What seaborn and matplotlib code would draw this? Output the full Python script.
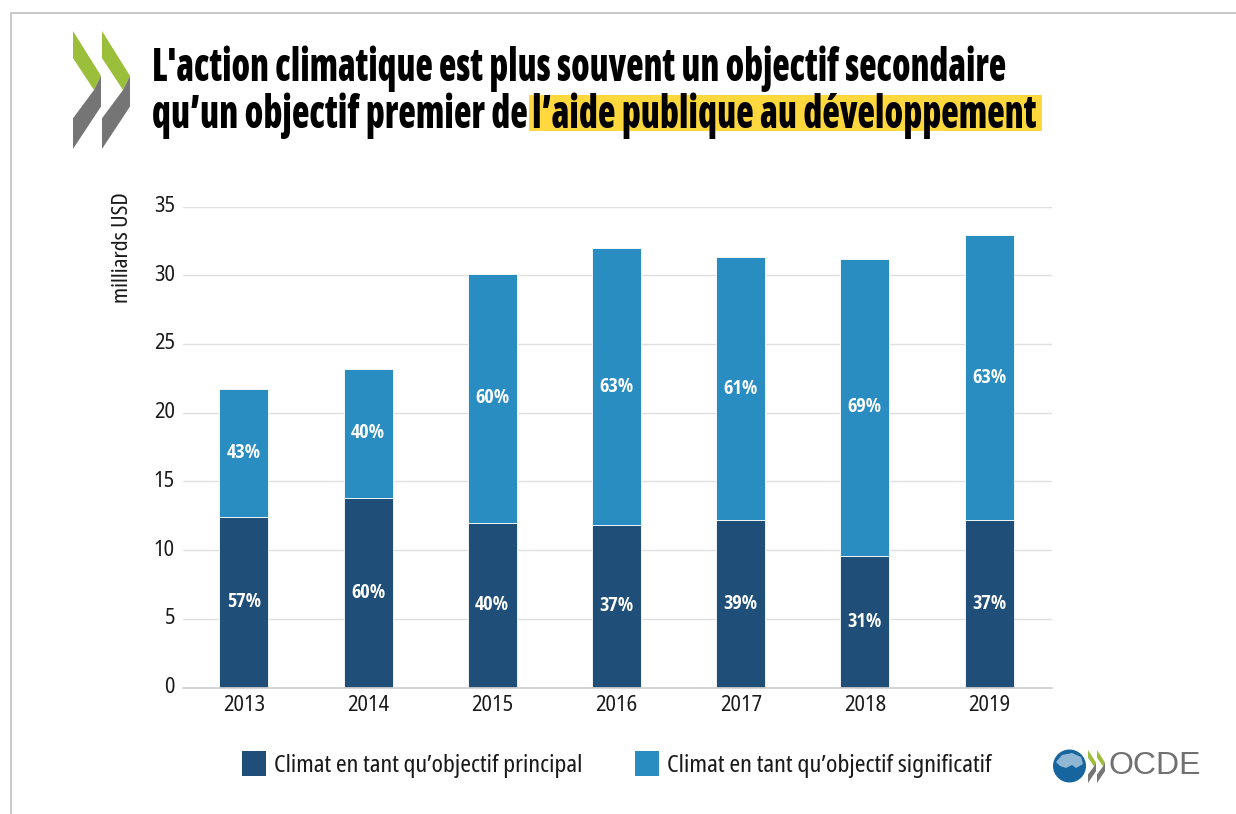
import matplotlib
matplotlib.use("Agg")
import matplotlib.pyplot as plt
from matplotlib.patches import Polygon, Rectangle, Circle
from matplotlib.lines import Line2D
from matplotlib.transforms import ScaledTranslation
from matplotlib import font_manager as fm
from fontTools.ttLib import TTFont
from fontTools.varLib import instancer
import pandas as pd
import seaborn as sns

years = ["2013", "2014", "2015", "2016", "2017", "2018", "2019"]
principal = [12.4, 13.8, 12.0, 11.8, 12.2, 9.6, 12.2]
significatif = [9.3, 9.4, 18.1, 20.2, 19.1, 21.6, 20.7]
pct_principal = ["57%", "60%", "40%", "37%", "39%", "31%", "37%"]
pct_significatif = ["43%", "40%", "60%", "63%", "61%", "69%", "63%"]
label_principal = "Climat en tant qu’objectif principal"
label_significatif = "Climat en tant qu’objectif significatif"
title_1 = "L'action climatique est plus souvent un objectif secondaire"
title_2 = "qu’un objectif premier de "
title_3 = "l’aide publique au développement"
y_label = "milliards USD"

DARK, LIGHT = "#1F4E79", "#2A8DC2"
TEXT = "#1a1a1a"

# condensed faces cut from the installed variable Noto Sans
src = next(f.fname for f in fm.fontManager.ttflist if f.fname.endswith("NotoSans[wdth,wght].ttf"))
def face(name, wdth, wght, k=1.0):
    f = instancer.instantiateVariableFont(TTFont(src), {"wdth": wdth, "wght": wght})
    if k != 1.0:
        glyf = f["glyf"]
        for g in f.getGlyphOrder():
            gl = glyf[g]
            if gl.isComposite():
                for c in gl.components:
                    c.x = int(round(c.x * k))
            elif gl.numberOfContours > 0:
                gl.coordinates.scale((k, 1))
                gl.coordinates.toInt()
            gl.recalcBounds(glyf)
            adv, lsb = f["hmtx"][g]
            f["hmtx"][g] = (int(round(adv * k)), int(round(lsb * k)))
        for t in ("fpgm", "prep", "cvt ", "GPOS", "kern", "HVAR"):
            if t in f:
                del f[t]
    f.save(name)
    return name
F_TITLE = face("title.ttf", 62.5, 900, 0.79)
F_BODY = face("body.ttf", 70, 400)
F_TICK = face("tick.ttf", 84, 400)
F_BOLD = face("bold.ttf", 70, 700)
def fp(path, size):
    return fm.FontProperties(fname=path, size=size)

W, H = 1236, 814
sns.set_theme(style="white")
fig = plt.figure(figsize=(W / 100, H / 100), dpi=100)
bg = fig.add_axes([0, 0, 1, 1])
bg.set_xlim(0, W); bg.set_ylim(H, 0); bg.axis("off")

ax = fig.add_axes([183 / W, 1 - 687.5 / H, (1052 - 183) / W, (687.5 - 206.5) / H])
df = pd.DataFrame({"year": years, "p": principal, "s": significatif})
sns.barplot(data=df, x="year", y="p", color=DARK, saturation=1, width=0.395, ax=ax)
sns.barplot(data=df, x="year", y="s", bottom=df["p"], color=LIGHT, saturation=1, width=0.395, ax=ax)
for c in ax.containers:
    for b in c:
        b.set_edgecolor("white"); b.set_linewidth(0.6)
ax.set_xlim(-0.49, 6.506)
ax.set_ylim(0, 35)
ax.set_xlabel(""); ax.set_ylabel("")
ax.set_yticks(range(0, 36, 5))
ax.grid(axis="y", color="#DFDFDF", lw=1)
ax.set_axisbelow(True)
sns.despine(ax=ax, left=True)
ax.spines["bottom"].set_color("#CFCFCF")
ax.tick_params(axis="both", length=0, colors=TEXT)
ax.tick_params(axis="y", pad=5.8)
ax.tick_params(axis="x", pad=5.5)
for t in ax.get_xticklabels() + ax.get_yticklabels():
    t.set_fontproperties(fp(F_TICK, 15))
lift = ScaledTranslation(0, 2.5 / 100, fig.dpi_scale_trans)
for t in ax.get_yticklabels():
    t.set_transform(t.get_transform() + lift)
for i, (p, s) in enumerate(zip(principal, significatif)):
    ax.text(i, p / 2, pct_principal[i], color="white", ha="center", va="center", fontproperties=fp(F_BOLD, 14))
    ax.text(i, p + s / 2, pct_significatif[i], color="white", ha="center", va="center", fontproperties=fp(F_BOLD, 14))

bg.text(122, 248, y_label, rotation=90, ha="center", va="center", fontproperties=fp(F_BODY, 16), color=TEXT)

# frame
bg.add_line(Line2D([10.5, 10.5, W], [H, 13, 13], color="#C4C4C4", lw=1.3))
# title
bg.add_patch(Rectangle((529, 95), 513, 36, color="#FFD83D", lw=0))
TS = 33
bg.text(152, 69, title_1, fontproperties=fp(F_TITLE, 32.7), color="black", va="center", ha="left")
bg.text(152, 116, title_2, fontproperties=fp(F_TITLE, TS), color="black", va="center", ha="left")
bg.text(532, 116, title_3, fontproperties=fp(F_TITLE, TS), color="black", va="center", ha="left")

# OECD chevrons
def chevron(ax, x, y, w, h, green="#9BBF3B", gray="#757575"):
    ax.add_patch(Polygon([(x, y), (x + w, y + h * 0.38), (x + w * 0.75, y + h * 0.5), (x, y + h * 0.23)], color=green, lw=0))
    ax.add_patch(Polygon([(x + w, y + h * 0.38), (x + w, y + h * 0.64), (x, y + h), (x, y + h * 0.74), (x + w * 0.75, y + h * 0.5)], color=gray, lw=0))
chevron(bg, 73, 31, 28, 118)
chevron(bg, 102, 31, 28, 118)

# legend
bg.add_patch(Rectangle((242, 751), 24, 25, color=DARK, lw=0))
bg.text(274, 766, label_principal, fontproperties=fp(F_BODY, 17.4), va="center", color=TEXT)
bg.add_patch(Rectangle((635, 751), 24, 25, color=LIGHT, lw=0))
bg.text(667, 766, label_significatif, fontproperties=fp(F_BODY, 17.5), va="center", color=TEXT)

# logo
bg.add_patch(Circle((1069.5, 766), 16.5, color="#17659F", lw=0))
bg.add_patch(Polygon([(1056, 762), (1062, 755), (1072, 753), (1081, 757), (1083, 764), (1076, 768), (1072, 765), (1066, 768), (1060, 766)], color="#8FB7D3", lw=0))
chevron(bg, 1088, 750, 8, 33)
chevron(bg, 1097, 750, 8, 33)
bg.text(1108, 766, "OCDE", fontsize=23, va="center", color="#707070", family="Liberation Sans")

fig.savefig("out.png", dpi=100)
